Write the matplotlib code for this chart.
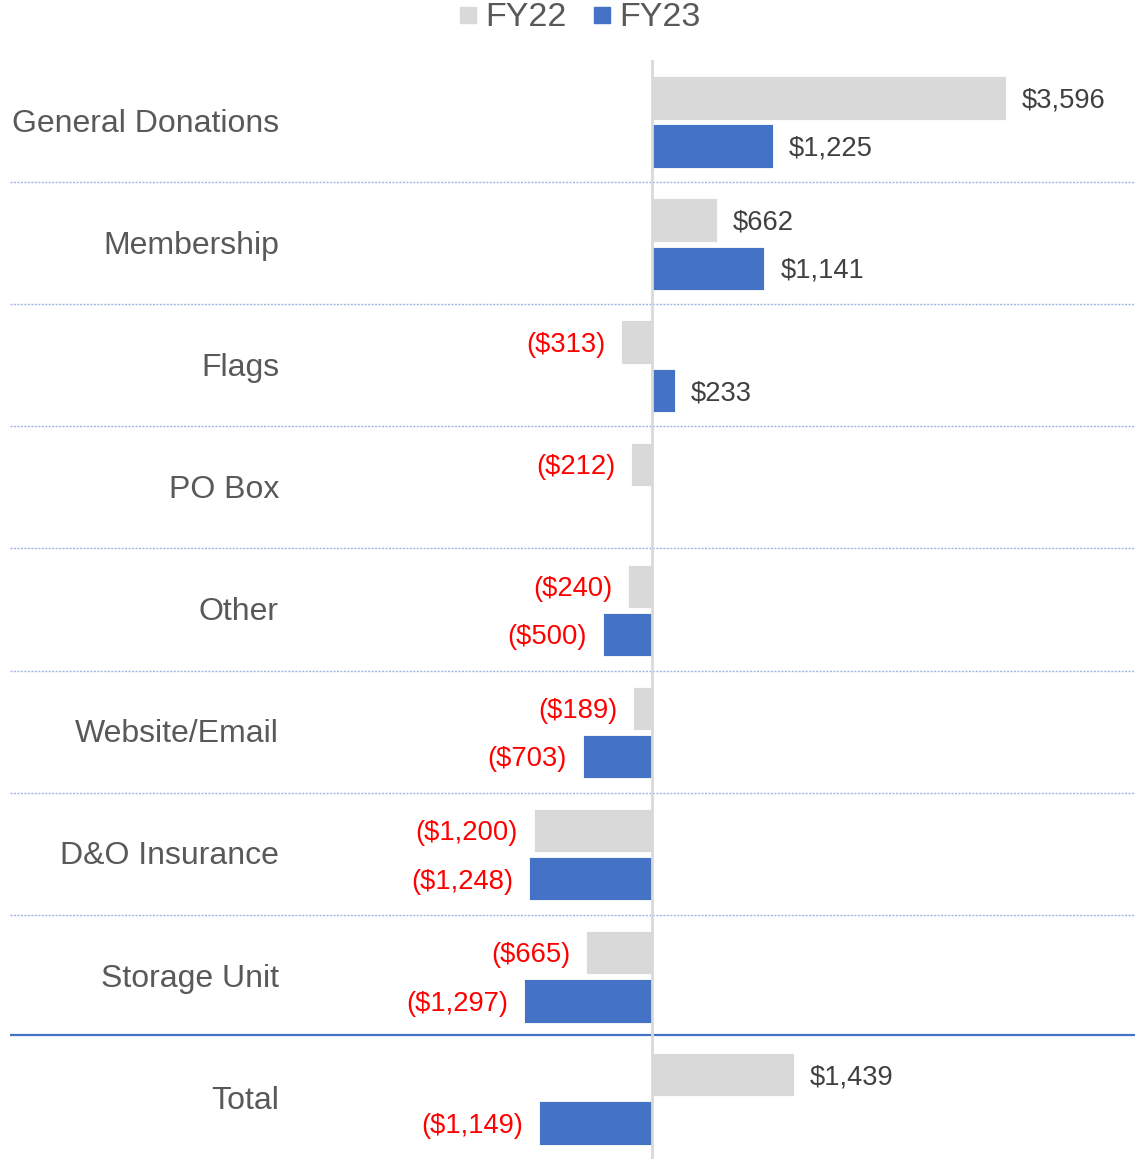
import matplotlib
matplotlib.use("Agg")
import matplotlib.pyplot as plt
from matplotlib.lines import Line2D
import numpy as np

plt.rcParams['font.family'] = ['Liberation Sans', 'DejaVu Sans']

categories = ["General Donations", "Membership", "Flags", "PO Box", "Other",
              "Website/Email", "D&O Insurance", "Storage Unit", "Total"]
fy22 = [3596, 662, -313, -212, -240, -189, -1200, -665, 1439]
fy23 = [1225, 1141, 233, None, -500, -703, -1248, -1297, -1149]
series_names = ["FY22", "FY23"]

GRAY = "#D9D9D9"
BLUE = "#4472C4"
W, H = 1135, 1159
fig = plt.figure(figsize=(W / 100, H / 100), dpi=100)
ax = fig.add_axes([10 / W, 0, 1 - 10 / W, 1 - 60 / H])

scale = 0.0985  # px per dollar
ax.set_xlim(-642 / scale, 483 / scale)
ax.set_ylim(len(categories) - 0.5, -0.5)
for s in ax.spines.values():
    s.set_visible(False)
ax.set_xticks([])
ax.set_yticks([])

y = np.arange(len(categories))
h = 0.355


def fmt(v):
    return f"(${abs(v):,.0f})" if v < 0 else f"${v:,.0f}"


for vals, color, o in [(fy22, GRAY, -0.19), (fy23, BLUE, 0.205)]:
    for yi, v in zip(y, vals):
        if v is None:
            continue
        ax.barh(yi + o, v, height=h, color=color, edgecolor="white", linewidth=0.6, zorder=2)
        if v >= 0:
            ax.annotate(fmt(v), (v, yi + o), xytext=(11.5, -2), textcoords="offset points",
                        ha="left", va="center", fontsize=19.7, color="#404040")
        else:
            ax.annotate(fmt(v), (v, yi + o), xytext=(-11.5, -2), textcoords="offset points",
                        ha="right", va="center", fontsize=19.7, color="#FF0000")

# category labels
for yi, c in zip(y, categories):
    ax.annotate(c, (269 / 1125, yi), xycoords=ax.get_yaxis_transform(),
                xytext=(0, -2), textcoords="offset points", ha="right",
                va="center", fontsize=23, color="#595959")

# separators
for i in range(len(categories) - 1):
    if i == len(categories) - 2:
        ax.axhline(i + 0.485, color=BLUE, lw=1.6, zorder=1)
    else:
        ax.axhline(i + 0.5, color="#9FB6E0", lw=1.0, ls=(0, (1.5, 1)), zorder=1)

ax.axvline(0, color=GRAY, lw=2, zorder=3)

handles = [Line2D([], [], marker="s", ls="", markersize=11.5, color=GRAY),
           Line2D([], [], marker="s", ls="", markersize=11.5, color=BLUE)]
leg = fig.legend(handles, series_names, loc="center", bbox_to_anchor=(576 / W, 1 - 18 / H),
                 ncol=2, frameon=False, fontsize=24.5, handletextpad=0.0,
                 columnspacing=0.55, handlelength=1.0)
for t in leg.get_texts():
    t.set_color("#595959")

fig.savefig("out.png", dpi=100)
